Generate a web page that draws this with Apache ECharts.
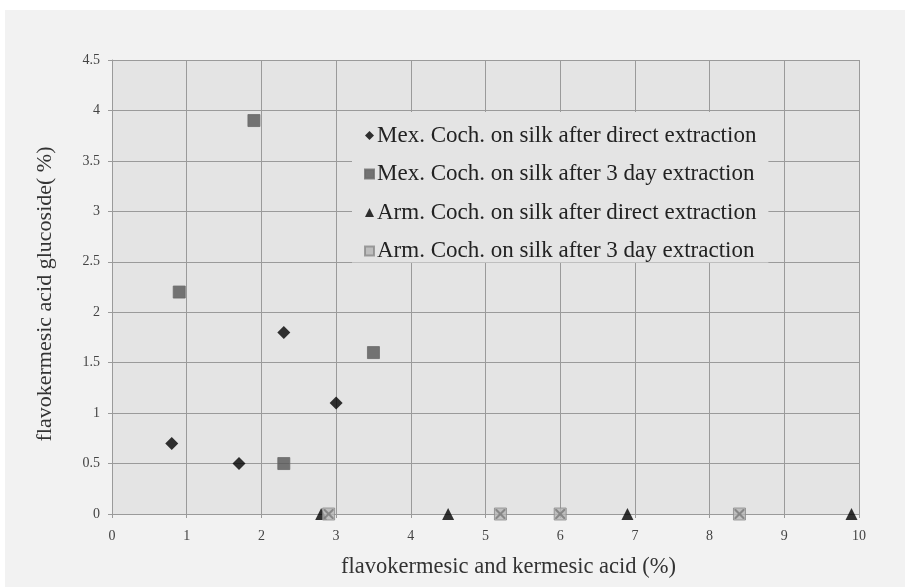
<!DOCTYPE html>
<html>
<head>
<meta charset="utf-8">
<script src="https://cdn.jsdelivr.net/npm/echarts@6/dist/echarts.min.js"></script>
<style>
  html, body { margin: 0; padding: 0; background: #ffffff; }
  #panel { position: absolute; left: 5px; top: 10px; width: 900px; height: 577px; background: #f2f2f2; }
  #chart { position: absolute; left: 0; top: 0; width: 905px; height: 587px; }
</style>
</head>
<body>
<div id="panel"></div>
<div id="chart"></div>
<script>
const seriesNames = [
  'Mex. Coch. on silk after direct extraction',
  'Mex. Coch. on silk after 3 day extraction',
  'Arm. Coch. on silk after direct extraction',
  'Arm. Coch. on silk after 3 day extraction'
];
const mexDirect = [[0.8, 0.7], [1.7, 0.5], [2.3, 1.8], [3.0, 1.1]];
const mex3day = [[0.9, 2.2], [1.9, 3.9], [2.3, 0.5], [3.5, 1.6]];
const armDirect = [[2.8, 0], [4.5, 0], [6.9, 0], [9.9, 0]];
const arm3day = [[2.9, 0], [5.2, 0], [6.0, 0], [8.4, 0]];
const xAxisName = 'flavokermesic and kermesic acid (%)';
const yAxisName = 'flavokermesic acid glucoside( %)';

const serif = "'Liberation Serif', 'DejaVu Serif', serif";
const xPath = 'path://M0,0 L1.5,0 L5,3.5 L8.5,0 L10,0 L10,1.5 L6.5,5 L10,8.5 L10,10 L8.5,10 L5,6.5 L1.5,10 L0,10 L0,8.5 L3.5,5 L0,1.5 Z';
const chart = echarts.init(document.getElementById('chart'), null, { renderer: 'canvas' });
const axisCommon = {
  axisLine: { show: true, lineStyle: { color: '#9a9a9a', width: 1 } },
  axisTick: { show: true, inside: false, length: 4, lineStyle: { color: '#9a9a9a' } },
  splitLine: { show: true, lineStyle: { color: '#9a9a9a', width: 1 } },
  axisLabel: { color: '#444', fontFamily: serif, fontSize: 14 },
  nameTextStyle: { color: '#333', fontFamily: serif, fontSize: 22 }
};
chart.setOption({
  animation: false,
  backgroundColor: 'transparent',
  grid: {
    left: 112, right: 46, top: 60, bottom: 73,
    show: true, backgroundColor: '#e4e4e4', borderWidth: 0
  },
  xAxis: Object.assign({}, axisCommon, {
    type: 'value', min: 0, max: 10, interval: 1,
    name: xAxisName, nameLocation: 'middle', nameGap: 42,
    nameTextStyle: Object.assign({}, axisCommon.nameTextStyle, { fontSize: 22.5, padding: [0, 0, 0, 46] }),
    axisLabel: Object.assign({}, axisCommon.axisLabel, { margin: 15 })
  }),
  yAxis: Object.assign({}, axisCommon, {
    type: 'value', min: 0, max: 4.5, interval: 0.5,
    name: yAxisName, nameLocation: 'middle', nameGap: 56,
    nameTextStyle: Object.assign({}, axisCommon.nameTextStyle, { padding: [0, 14, 0, 0] }),
    axisLabel: Object.assign({}, axisCommon.axisLabel, { margin: 12 })
  }),
  legend: {
    orient: 'vertical', left: 352, top: 112,
    backgroundColor: '#e4e4e4',
    padding: [12, 12, 0, 12],
    itemGap: 15.5, itemWidth: 9, itemHeight: 9,
    textStyle: { color: '#222', fontFamily: serif, fontSize: 23, padding: [0, 0, 0, -2] },
    data: seriesNames
  },
  series: [
    { name: seriesNames[0], type: 'scatter', data: mexDirect, symbol: 'diamond', symbolSize: 13,
      itemStyle: { color: '#000' } },
    { name: seriesNames[1], type: 'scatter', data: mex3day, symbol: 'rect', symbolSize: 12,
      itemStyle: { color: '#555555', borderColor: '#6a6a6a', borderWidth: 1 } },
    { name: seriesNames[2], type: 'scatter', data: armDirect, symbol: 'triangle', symbolSize: 12,
      itemStyle: { color: '#000' } },
    { name: seriesNames[3], type: 'scatter', data: arm3day, symbol: 'rect', symbolSize: 12,
      itemStyle: { color: '#b4b4b4', borderColor: '#8a8a8a', borderWidth: 1 } },
    { name: seriesNames[3], type: 'scatter', data: arm3day, symbol: xPath, symbolSize: 10,
      silent: true, itemStyle: { color: '#7a7a7a' } }
  ]
});
</script>
</body>
</html>
